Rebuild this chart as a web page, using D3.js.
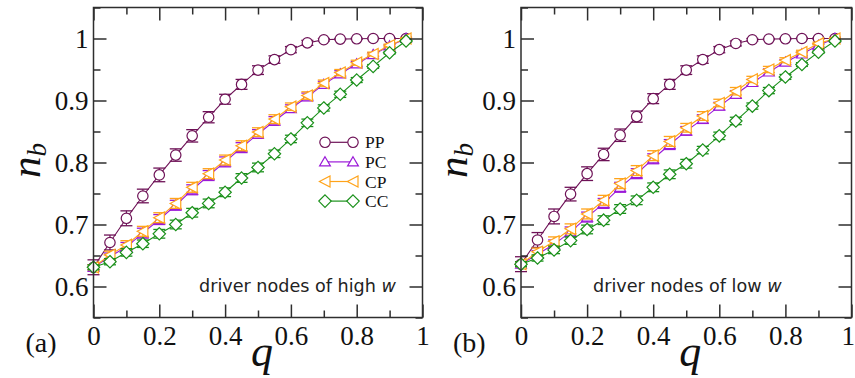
<!DOCTYPE html>
<html>
<head>
<meta charset="utf-8">
<script src="https://cdn.jsdelivr.net/npm/d3@7"></script>
<style>
  html, body { margin: 0; padding: 0; background: #fff; }
  svg { display: block; }
</style>
</head>
<body>
<svg id="fig" width="855" height="378"></svg>
<script>
// fraction q of rewired links
const q = [0, 0.05, 0.1, 0.15, 0.2, 0.25, 0.3, 0.35, 0.4, 0.45, 0.5, 0.55, 0.6, 0.65, 0.7, 0.75, 0.8, 0.85, 0.9, 0.95];

const seriesNames = ["PP", "PC", "CP", "CC"];

// panel (a): driver nodes of high w
const ppHigh = [0.631, 0.671, 0.710, 0.746, 0.780, 0.812, 0.843, 0.873, 0.902, 0.926, 0.949, 0.966, 0.982, 0.993, 0.998, 0.999, 0.9995, 1.0, 1.0, 1.0];
const pcHigh = [0.631, 0.648, 0.664, 0.686, 0.708, 0.731, 0.756, 0.779, 0.801, 0.824, 0.846, 0.867, 0.887, 0.906, 0.926, 0.943, 0.959, 0.974, 0.988, 1.0];
const cpHigh = [0.631, 0.651, 0.667, 0.689, 0.711, 0.734, 0.760, 0.782, 0.804, 0.827, 0.849, 0.870, 0.890, 0.908, 0.928, 0.945, 0.961, 0.975, 0.989, 1.0];
const ccHigh = [0.631, 0.640, 0.655, 0.669, 0.685, 0.700, 0.719, 0.734, 0.752, 0.775, 0.792, 0.814, 0.838, 0.864, 0.888, 0.910, 0.933, 0.955, 0.977, 0.996];

const ppHighErr = [0.012, 0.012, 0.012, 0.011, 0.011, 0.010, 0.010, 0.009, 0.008, 0.008, 0.007, 0.006, 0.005, 0.004, 0.002, 0.001, 0.001, 0.001, 0.001, 0.001];
const pcHighErr = [0.004, 0.006, 0.007, 0.008, 0.008, 0.008, 0.008, 0.008, 0.008, 0.008, 0.007, 0.007, 0.006, 0.006, 0.005, 0.005, 0.004, 0.003, 0.002, 0.001];
const cpHighErr = [0.004, 0.006, 0.007, 0.008, 0.008, 0.008, 0.008, 0.008, 0.008, 0.008, 0.007, 0.007, 0.006, 0.006, 0.005, 0.005, 0.004, 0.003, 0.002, 0.001];
const ccHighErr = [0.004, 0.005, 0.006, 0.006, 0.007, 0.007, 0.007, 0.007, 0.007, 0.007, 0.007, 0.006, 0.006, 0.006, 0.005, 0.005, 0.004, 0.003, 0.002, 0.001];

// panel (b): driver nodes of low w
const ppLow = [0.636, 0.675, 0.713, 0.749, 0.782, 0.813, 0.844, 0.874, 0.903, 0.926, 0.949, 0.966, 0.982, 0.992, 0.998, 0.999, 0.9995, 1.0, 1.0, 1.0];
const pcLow = [0.636, 0.652, 0.668, 0.688, 0.712, 0.734, 0.760, 0.782, 0.806, 0.829, 0.851, 0.870, 0.891, 0.910, 0.929, 0.946, 0.962, 0.975, 0.989, 1.0];
const cpLow = [0.636, 0.656, 0.673, 0.693, 0.717, 0.739, 0.766, 0.787, 0.811, 0.834, 0.856, 0.875, 0.896, 0.915, 0.934, 0.950, 0.965, 0.978, 0.992, 1.0];
const ccLow = [0.636, 0.646, 0.659, 0.674, 0.692, 0.707, 0.725, 0.739, 0.760, 0.781, 0.798, 0.820, 0.843, 0.867, 0.891, 0.916, 0.938, 0.958, 0.978, 0.996];

const ppLowErr = [0.012, 0.012, 0.012, 0.011, 0.011, 0.010, 0.010, 0.009, 0.008, 0.008, 0.007, 0.006, 0.005, 0.004, 0.002, 0.001, 0.001, 0.001, 0.001, 0.001];
const pcLowErr = [0.004, 0.006, 0.007, 0.008, 0.008, 0.008, 0.008, 0.008, 0.008, 0.008, 0.007, 0.007, 0.006, 0.006, 0.005, 0.005, 0.004, 0.003, 0.002, 0.001];
const cpLowErr = [0.004, 0.006, 0.007, 0.008, 0.008, 0.008, 0.008, 0.008, 0.008, 0.008, 0.007, 0.007, 0.006, 0.006, 0.005, 0.005, 0.004, 0.003, 0.002, 0.001];
const ccLowErr = [0.004, 0.005, 0.006, 0.006, 0.007, 0.007, 0.007, 0.007, 0.007, 0.007, 0.007, 0.006, 0.006, 0.006, 0.005, 0.005, 0.004, 0.003, 0.002, 0.001];

const xTickLabels = ["0", "0.2", "0.4", "0.6", "0.8", "1"];
const yTickLabels = ["0.6", "0.7", "0.8", "0.9", "1"];
const xMinorTicks = [0.1, 0.3, 0.5, 0.7, 0.9];
const yMinorTicks = [0.55, 0.65, 0.75, 0.85, 0.95, 1.05];

const colors = { PP: "#6e1257", PC: "#9b19d8", CP: "#ffa31a", CC: "#1a901a" };

// marker shapes, centred on the data point
const shapes = {
  PP: "circle",
  PC: "M0,-5.2L5.4,4L-5.4,4Z",
  CP: "M-5.6,0L5,-5.6L5,5.6Z",
  CC: "M0,-6.2L6.2,0L0,6.2L-6.2,0Z"
};

const panels = [
  {
    tag: "(a)", note: "driver nodes of high ", x0: 93.5, x1: 422.5,
    noteX: 199, legend: true,
    series: { PP: [ppHigh, ppHighErr], PC: [pcHigh, pcHighErr], CP: [cpHigh, cpHighErr], CC: [ccHigh, ccHighErr] }
  },
  {
    tag: "(b)", note: "driver nodes of low ", x0: 521, x1: 851.5,
    noteX: 593, legend: false,
    series: { PP: [ppLow, ppLowErr], PC: [pcLow, pcLowErr], CP: [cpLow, cpLowErr], CC: [ccLow, ccLowErr] }
  }
];

const plotTop = 7.5, plotBottom = 317.5, figWidth = 855;
const svg = d3.select("#fig");
const serif = "Liberation Serif, serif";
const sans = "DejaVu Sans, sans-serif";
const frameColor = "#2e2e2e";

function drawMarker(g, name, cx, cy) {
  if (shapes[name] === "circle") {
    g.append("circle").attr("cx", cx).attr("cy", cy).attr("r", 5.2)
      .attr("fill", "#fff").attr("stroke", colors[name]).attr("stroke-width", 1.2);
  } else {
    g.append("path").attr("d", shapes[name])
      .attr("transform", `translate(${cx},${cy})`)
      .attr("fill", "#fff").attr("stroke", colors[name]).attr("stroke-width", 1.2);
  }
}

function styleAxis(sel) {
  sel.attr("font-family", serif).attr("font-size", 27);
  sel.select(".domain").remove();
  sel.selectAll(".tick line").attr("stroke", frameColor).attr("stroke-width", 1.5);
  sel.selectAll(".tick text").attr("fill", "#111");
}

panels.forEach(p => {
  const x = d3.scaleLinear().domain([0, 1]).range([p.x0, p.x1]);
  const y = d3.scaleLinear().domain([0.55, 1.05]).range([plotBottom, plotTop]);
  const g = svg.append("g");

  // data: lines, error bars, markers
  seriesNames.forEach(name => {
    const [vals, errs] = p.series[name];
    const pts = q.map((qq, i) => ({ q: qq, v: vals[i], e: errs[i] }));
    const sg = g.append("g");
    sg.append("path").datum(pts)
      .attr("d", d3.line().x(d => x(d.q)).y(d => y(d.v)))
      .attr("fill", "none").attr("stroke", colors[name]).attr("stroke-width", 1.1);
    pts.forEach(d => {
      const cx = x(d.q), ya = y(d.v + d.e), yb = y(d.v - d.e);
      sg.append("line").attr("x1", cx).attr("x2", cx).attr("y1", ya).attr("y2", yb)
        .attr("stroke", colors[name]).attr("stroke-width", 1.1);
      [ya, yb].forEach(yy => sg.append("line")
        .attr("x1", cx - 6).attr("x2", cx + 6).attr("y1", yy).attr("y2", yy)
        .attr("stroke", colors[name]).attr("stroke-width", 1.3));
    });
    pts.forEach(d => drawMarker(sg, name, x(d.q), y(d.v)));
  });

  // inward ticks on all four sides; labels on bottom and left
  const xMajor = xTickLabels.map(Number), yMajor = yTickLabels.map(Number);
  g.append("g").attr("transform", `translate(0,${plotBottom})`)
    .call(d3.axisBottom(x).tickValues(xMajor).tickSize(-13).tickPadding(27).tickFormat((d, i) => xTickLabels[i]))
    .call(styleAxis)
    .call(s => s.selectAll(".tick text").attr("dy", "0")
      // keep the rightmost label inside the figure edge
      .attr("dx", function () {
        const b = this.getBBox(), tx = x(+this.textContent);
        const over = tx + b.width / 2 - (figWidth - 0.5);
        return over > 0 ? -over : 0;
      }));
  g.append("g").attr("transform", `translate(0,${plotBottom})`)
    .call(d3.axisBottom(x).tickValues(xMinorTicks).tickSize(-7).tickFormat("")).call(styleAxis);
  g.append("g").attr("transform", `translate(0,${plotTop})`)
    .call(d3.axisTop(x).tickValues(xMajor).tickSize(-13).tickFormat("")).call(styleAxis);
  g.append("g").attr("transform", `translate(0,${plotTop})`)
    .call(d3.axisTop(x).tickValues(xMinorTicks).tickSize(-7).tickFormat("")).call(styleAxis);
  g.append("g").attr("transform", `translate(${p.x0},0)`)
    .call(d3.axisLeft(y).tickValues(yMajor).tickSize(-13).tickPadding(5).tickFormat((d, i) => yTickLabels[i]))
    .call(styleAxis)
    .call(s => s.selectAll(".tick text").attr("x", -5).attr("dy", "0.34em"));
  g.append("g").attr("transform", `translate(${p.x0},0)`)
    .call(d3.axisLeft(y).tickValues(yMinorTicks).tickSize(-7).tickFormat("")).call(styleAxis);
  g.append("g").attr("transform", `translate(${p.x1},0)`)
    .call(d3.axisRight(y).tickValues(yMajor).tickSize(-13).tickFormat("")).call(styleAxis);
  g.append("g").attr("transform", `translate(${p.x1},0)`)
    .call(d3.axisRight(y).tickValues(yMinorTicks).tickSize(-7).tickFormat("")).call(styleAxis);

  // frame
  g.append("rect").attr("x", p.x0).attr("y", plotTop)
    .attr("width", p.x1 - p.x0).attr("height", plotBottom - plotTop)
    .attr("fill", "none").attr("stroke", frameColor).attr("stroke-width", 1.5);

  // axis titles
  g.append("text").attr("x", (p.x0 + p.x1) / 2 + 4).attr("y", 366)
    .attr("text-anchor", "middle").attr("font-family", serif).attr("font-style", "italic")
    .attr("font-size", 44).attr("fill", "#111").text("q");
  const yl = g.append("text")
    .attr("transform", `translate(${p.x0 - 54},${y(0.8) - 2}) rotate(-90)`)
    .attr("text-anchor", "middle").attr("font-family", serif).attr("font-style", "italic")
    .attr("fill", "#111");
  yl.append("tspan").attr("font-size", 43).text("n");
  yl.append("tspan").attr("font-size", 27).attr("dy", 6).text("b");

  // panel tag
  g.append("text").attr("x", p.x0 - 68).attr("y", 352)
    .attr("font-family", serif).attr("font-size", 28).attr("fill", "#111").text(p.tag);

  // annotation
  const note = g.append("text").attr("x", p.noteX).attr("y", 292)
    .attr("font-family", sans).attr("font-size", 17.6).attr("fill", "#222");
  note.append("tspan").text(p.note);
  note.append("tspan").attr("font-style", "italic").text("w");

  // legend
  if (p.legend) {
    seriesNames.forEach((name, i) => {
      const ly = 142.3 + i * 19.6;
      const lg = g.append("g");
      lg.append("line").attr("x1", 325).attr("x2", 353).attr("y1", ly).attr("y2", ly)
        .attr("stroke", colors[name]).attr("stroke-width", 1.2);
      drawMarker(lg, name, 325, ly);
      drawMarker(lg, name, 353, ly);
      lg.append("text").attr("x", 365).attr("y", ly).attr("dy", "0.35em")
        .attr("font-family", serif).attr("font-size", 17.5).attr("fill", "#111").text(name);
    });
  }
});
</script>
</body>
</html>
